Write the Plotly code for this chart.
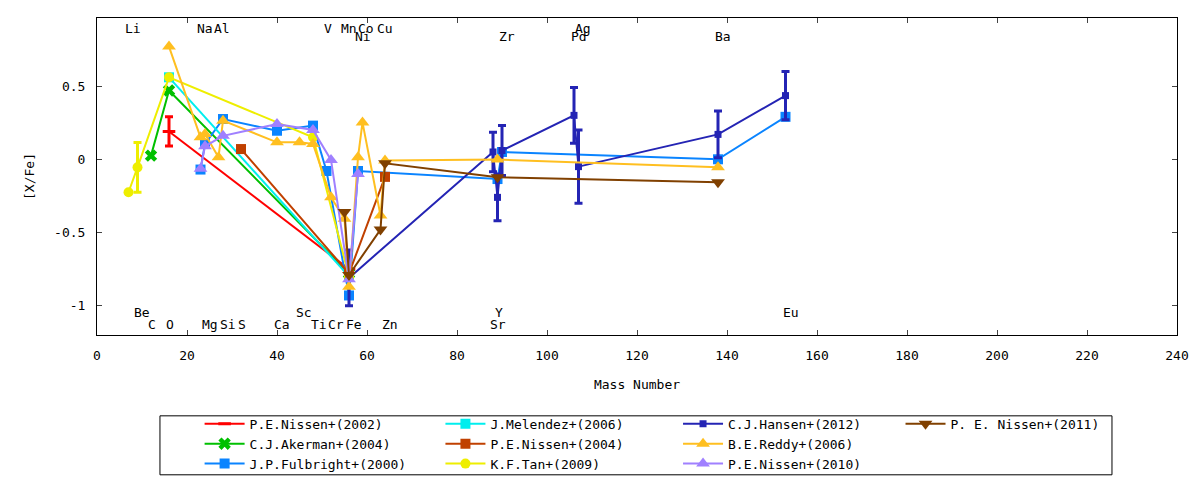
import plotly.graph_objects as go

# ---------------- data ----------------
# P.E.Nissen+(2002)
n02_A = [16, 56]
n02_v = [0.19, -0.75]
n02_e = [0.10, None]
# C.J.Akerman+(2004)
ak_A = [12, 16, 56]
ak_v = [0.025, 0.47, -0.78]
# J.P.Fulbright+(2000)
fu_A = [23, 24, 28, 40, 48, 51, 56, 58, 89, 90, 138, 153]
fu_v = [-0.07, 0.105, 0.275, 0.195, 0.23, -0.08, -0.93, -0.08, -0.135, 0.05, 0.0, 0.29]
# J.Melendez+(2006)
me_A = [16, 56]
me_v = [0.56, -0.80]
# P.E.Nissen+(2004)
n04_A = [32, 56, 64]
n04_v = [0.07, -0.78, -0.12]
# K.F.Tan+(2009)
tan_A = [7, 9, 16, 48, 56]
tan_v = [-0.225, -0.055, 0.56, 0.15, -0.80]
tan_e = [None, 0.17, None, None, None]
# C.J.Hansen+(2012)
ha_A = [56, 88, 89, 90, 106, 107, 138, 153]
ha_v = [-0.81, 0.05, -0.26, 0.06, 0.30, -0.05, 0.17, 0.435]
ha_e = [0.19, 0.135, 0.16, 0.17, 0.19, 0.25, 0.16, 0.165]
# B.E.Reddy+(2006)
re_A = [16, 23, 24, 27, 28, 40, 45, 48, 52, 55, 56, 58, 59, 63, 64, 89, 138]
re_v = [0.77, 0.15, 0.173, 0.014, 0.264, 0.116, 0.116, 0.105, -0.26, -0.406,
        -0.87, 0.014, 0.252, -0.384, -0.009, -0.002, -0.055]
# P.E.Nissen+(2010)
n10_A = [23, 24, 28, 40, 48, 52, 56, 58]
n10_v = [-0.065, 0.089, 0.16, 0.241, 0.20, -0.004, -0.82, -0.10]
# P. E. Nissen+(2011)
n11_A = [55, 56, 63, 64, 89, 138]
n11_v = [-0.36, -0.79, -0.48, -0.027, -0.123, -0.157]

# element labels
row1_labels = ["Li", "Na", "Al", "V", "Mn", "Co", "Cu", "Ag"]
row1_x = [7.9, 24.1, 27.8, 51.3, 56.1, 59.7, 64.1, 108.1]
row2_labels = ["Ni", "Zr", "Pd", "Ba"]
row2_x = [59.1, 91.1, 107.0, 139.1]
row3_labels = ["Be", "Sc", "Y", "Eu"]
row3_x = [10.0, 46.1, 89.4, 154.2]
row4_labels = ["C", "O", "Mg", "Si", "S", "Ca", "Ti", "Cr", "Fe", "Zn", "Sr"]
row4_x = [12.3, 16.3, 25.2, 29.1, 32.3, 41.2, 49.4, 53.2, 57.0, 65.0, 89.1]
row_y = [0.894, 0.84, -1.045, -1.127]

x_ticks = list(range(0, 241, 20))
y_ticks = [-1, -0.5, 0, 0.5]
y_ticktext = ["-1", "-0.5", "0", "0.5"]

FONT = "DejaVu Sans Mono"
FS = 13

fig = go.Figure()

def add(name, A, v, color, symbol, size, legend, err=None, mline=0):
    tr = dict(x=A, y=v, name=name, mode="lines+markers",
              line=dict(color=color, width=2),
              marker=dict(color=color, symbol=symbol, size=size,
                          line=dict(color=color, width=mline)),
              legend=legend)
    if err is not None:
        tr["error_y"] = dict(type="data", array=err, visible=True,
                             color=color, thickness=3, width=4)
    fig.add_trace(go.Scatter(**tr))

add("P.E.Nissen+(2002)", n02_A, n02_v, "#ff0000", "line-ew", 9, "legend", n02_e, 3)
add("C.J.Akerman+(2004)", ak_A, ak_v, "#00c000", "x", 11, "legend")
add("J.P.Fulbright+(2000)", fu_A, fu_v, "#0a84ff", "square", 10, "legend")
add("J.Melendez+(2006)", me_A, me_v, "#00eeee", "square", 10, "legend2")
add("P.E.Nissen+(2004)", n04_A, n04_v, "#c04000", "square", 10, "legend2")
add("K.F.Tan+(2009)", tan_A, tan_v, "#eeee00", "circle", 10, "legend2", tan_e)
add("C.J.Hansen+(2012)", ha_A, ha_v, "#2424b4", "square", 7, "legend3", ha_e)
add("B.E.Reddy+(2006)", re_A, re_v, "#ffbf20", "triangle-up", 12, "legend3")
add("P.E.Nissen+(2010)", n10_A, n10_v, "#a080ff", "triangle-up", 12, "legend3")
add("P. E. Nissen+(2011)", n11_A, n11_v, "#804000", "triangle-down", 12, "legend4")

annotations = []
for labels, xs, yy in [(row1_labels, row1_x, row_y[0]), (row2_labels, row2_x, row_y[1]),
                       (row3_labels, row3_x, row_y[2]), (row4_labels, row4_x, row_y[3])]:
    for t, x in zip(labels, xs):
        annotations.append(dict(x=x, y=yy, xref="x", yref="y", text=t, showarrow=False,
                                xanchor="center", yanchor="middle",
                                font=dict(family=FONT, size=FS, color="black")))

leg_common = dict(orientation="v", yanchor="top", xanchor="left", y=-0.233,
                  bgcolor="rgba(0,0,0,0)", borderwidth=0,
                  font=dict(family=FONT, size=FS, color="black"),
                  itemwidth=40, tracegroupgap=0)

fig.update_layout(
    width=1192, height=472,
    margin=dict(l=89, r=23, t=10, b=145, autoexpand=False),
    plot_bgcolor="white", paper_bgcolor="white",
    font=dict(family=FONT, size=FS, color="black"),
    showlegend=True,
    legend=dict(x=0.095, **leg_common),
    legend2=dict(x=0.318, **leg_common),
    legend3=dict(x=0.538, **leg_common),
    legend4=dict(x=0.744, **leg_common),
    annotations=annotations,
    shapes=[dict(type="rect", xref="paper", yref="paper",
                 x0=0.0583, x1=0.9398, y0=-0.441, y1=-0.255,
                 line=dict(color="black", width=1))],
    xaxis=dict(range=[0, 240], tickvals=x_ticks, ticks="inside", ticklen=5,
               showline=True, linecolor="black", linewidth=1, mirror="ticks",
               showgrid=False, zeroline=False, ticklabelstandoff=8, automargin=False,
               title=dict(text="Mass Number", standoff=18,
                          font=dict(family=FONT, size=FS))),
    yaxis=dict(range=[-1.2, 0.965], tickvals=y_ticks, ticktext=y_ticktext,
               ticks="inside", ticklen=5,
               showline=True, linecolor="black", linewidth=1, mirror="ticks",
               showgrid=False, zeroline=False, ticklabelstandoff=8, automargin=False,
               title=dict(text="[X/Fe]", standoff=16,
                          font=dict(family=FONT, size=FS))),
)

fig.write_html("out.html")
